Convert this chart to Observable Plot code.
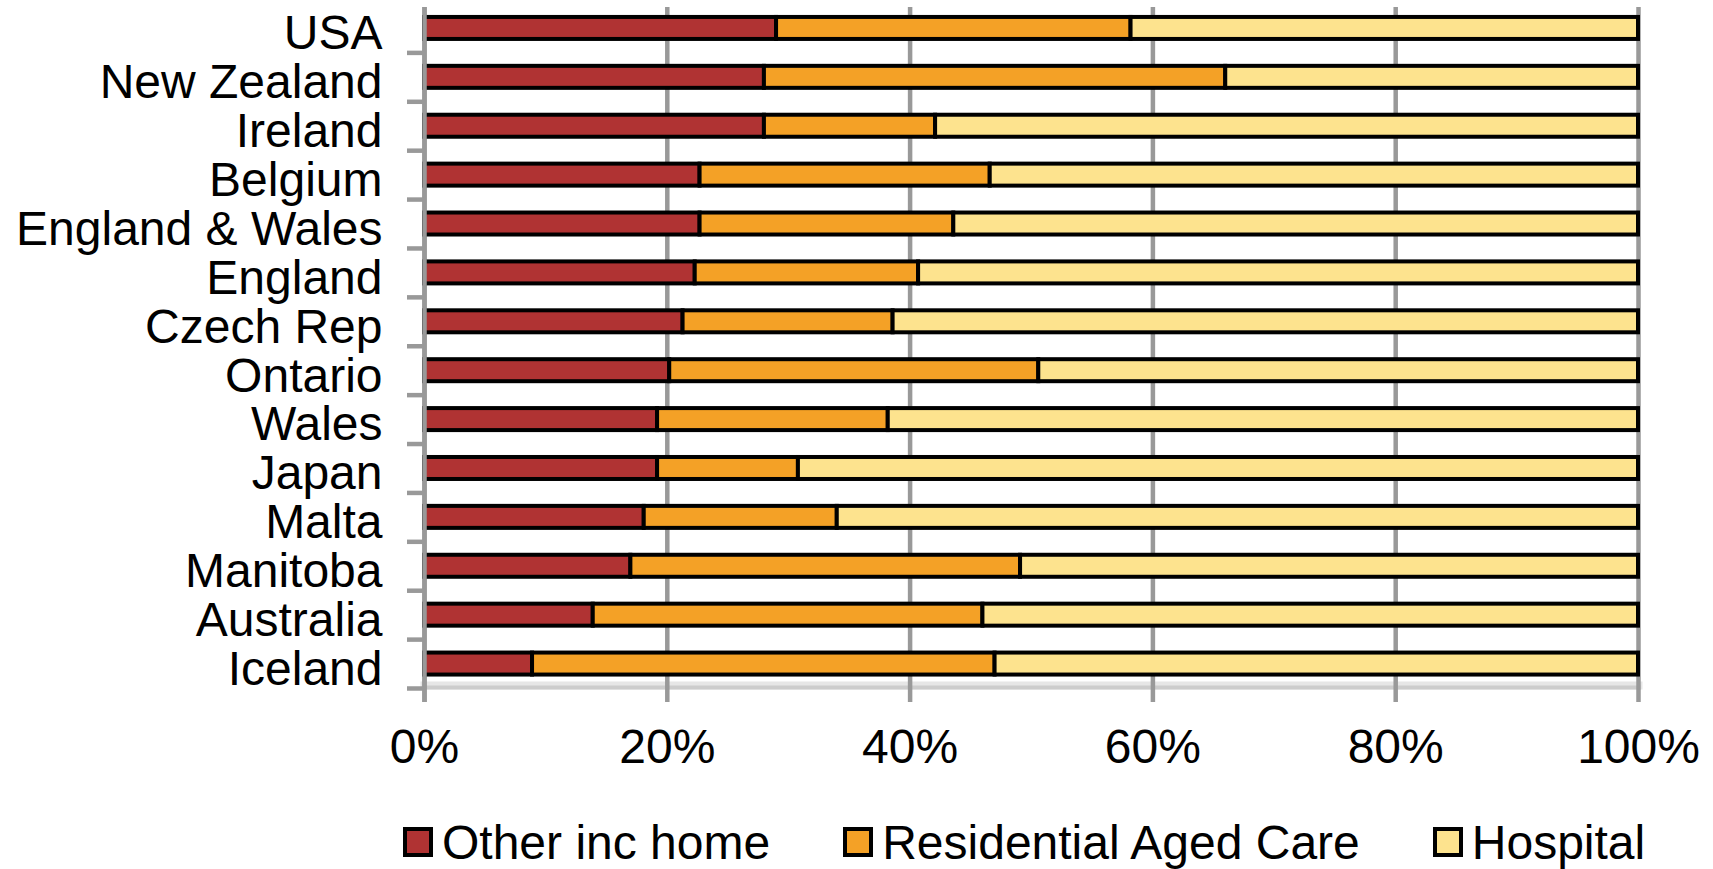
<!DOCTYPE html>
<html>
<head>
<meta charset="utf-8">
<script src="https://cdn.jsdelivr.net/npm/d3@7"></script>
<script src="https://cdn.jsdelivr.net/npm/@observablehq/plot@0.6"></script>
<style>
  body { margin: 0; background: #fff; font-family: Arial, "Liberation Sans", sans-serif; }
  #legend { height: 69px; display: flex; align-items: flex-start; padding-left: 403px;
            font-size: 48px; line-height: 44px; color: #000; white-space: nowrap; overflow: hidden; }
  #legend .item { display: flex; align-items: flex-start; margin-right: 73px; padding-top: 21px; }
  #legend .sw { width: 30px; height: 30px; box-sizing: border-box; border: 4.5px solid #000;
                margin-top: 6px; margin-right: 9px; }
</style>
</head>
<body>
<div id="chart"></div>
<div id="legend"></div>
<script>
// Place of death by country, share of deaths (%)
const countries = [
  "USA", "New Zealand", "Ireland", "Belgium", "England & Wales", "England", "Czech Rep",
  "Ontario", "Wales", "Japan", "Malta", "Manitoba", "Australia", "Iceland"
];
const otherHome       = [29.0, 28.0, 28.0, 22.7, 22.7, 22.3, 21.3, 20.2, 19.2, 19.2, 18.1, 17.0, 13.9, 8.9];
const residentialCare = [29.2, 38.0, 14.1, 23.9, 20.9, 18.4, 17.3, 30.4, 19.0, 11.6, 15.9, 32.1, 32.1, 38.1];
const hospital        = [41.8, 34.0, 57.9, 53.4, 56.4, 59.3, 61.4, 49.4, 61.8, 69.2, 66.0, 50.9, 54.0, 53.0];

const seriesNames  = ["Other inc home", "Residential Aged Care", "Hospital"];
const seriesColors = ["#b03333", "#f4a126", "#fde38e"];
const xTicks = [0, 20, 40, 60, 80, 100];

const seriesValues = [otherHome, residentialCare, hospital];
const rows = countries.flatMap((country, i) =>
  seriesNames.map((series, s) => ({country, series, value: seriesValues[s][i]}))
);

const width = 1713, height = 800;
const marginTop = 3.5, marginBottom = 112, marginLeft = 424, marginRight = 75;
const step = (height - marginTop - marginBottom) / countries.length;
const gridGray = "#999999";
const font = "Arial, 'Liberation Sans', sans-serif";

const chart = Plot.plot({
  width, height, marginTop, marginBottom, marginLeft, marginRight,
  style: {fontFamily: font, fontSize: "48px", color: "#000", background: "#fff", overflow: "visible"},
  x: {domain: [0, 100]},
  y: {domain: countries, paddingInner: 0.55, paddingOuter: 0.275, round: false},
  color: {domain: seriesNames, range: seriesColors},
  marks: [
    // chart floor below the last bar
    Plot.frame({anchor: "bottom", stroke: "#e6e6e6", strokeWidth: 8, dy: -3}),
    Plot.frame({anchor: "bottom", stroke: "#cccccc", strokeWidth: 4, dy: -1}),
    Plot.gridX({ticks: xTicks, stroke: gridGray, strokeOpacity: 1, strokeWidth: 4.5, insetTop: 3.5}),
    Plot.axisX({ticks: xTicks, tickSize: 14, tickPadding: 26, stroke: gridGray, strokeWidth: 4.5,
                fill: "#000", tickFormat: d => d + "%", label: null}),
    Plot.barX(rows, Plot.stackX({x: "value", y: "country", fill: "series", stroke: "#000", strokeWidth: 4})),
    // vertical axis line drawn over the bar ends
    Plot.ruleX([0], {stroke: gridGray, strokeWidth: 4.5, insetTop: 3.5, insetBottom: -14}),
    Plot.axisY({tickSize: 0, tickPadding: 42, dy: 5.5, label: null, fill: "#000"}),
    // category separators at the band boundaries
    Plot.axisY({tickSize: 17, fill: "none", stroke: gridGray, strokeWidth: 4.5, dy: step / 2, label: null})
  ]
});
document.getElementById("chart").appendChild(chart);

const legend = d3.select("#legend");
seriesNames.forEach((name, i) => {
  const item = legend.append("div").attr("class", "item");
  item.append("div").attr("class", "sw").style("background", seriesColors[i]);
  item.append("span").text(name);
});
</script>
</body>
</html>
